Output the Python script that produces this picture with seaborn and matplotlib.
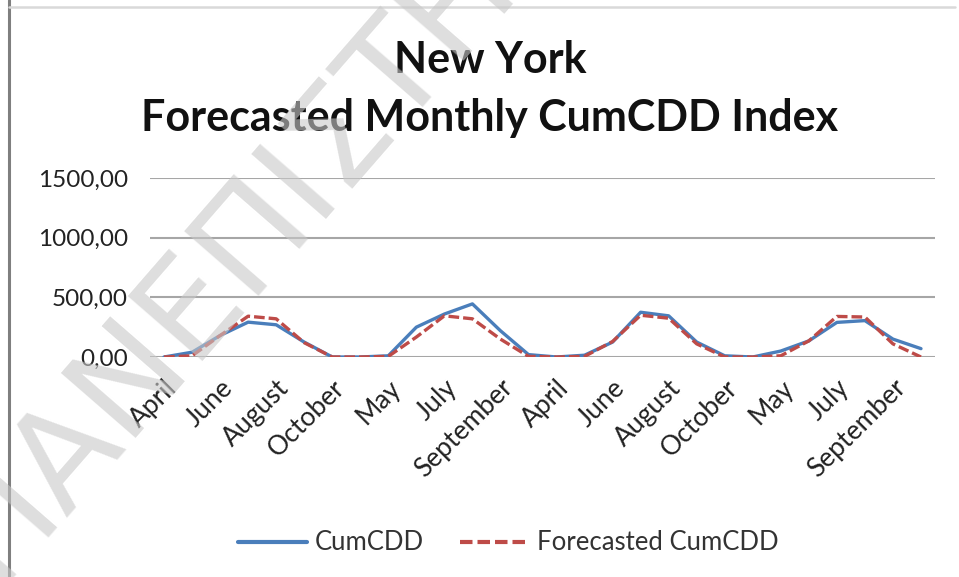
import numpy as np
import pandas as pd
import matplotlib
matplotlib.use("Agg")
import matplotlib.pyplot as plt
import matplotlib.ticker as mticker
from matplotlib.lines import Line2D
import seaborn as sns

# Season months (April-October), four seasons in a row
months = ["April", "May", "June", "July", "August", "September", "October"] * 4

cumcdd = [0, 40, 180, 292, 270, 125, 0,
          0, 10, 250, 360, 445, 220, 20,
          0, 15, 125, 375, 345, 125, 10,
          0, 50, 135, 290, 305, 150, 70]

forecast_cumcdd = [0, 10, 180, 342, 320, 120, 0,
                   0, 5, 167, 345, 320, 150, 5,
                   0, 5, 130, 350, 325, 110, 0,
                   0, 10, 135, 340, 335, 110, 0]

y_ticks = [0, 500, 1000, 1500]

series_names = ["CumCDD", "Forecasted CumCDD"]
colors = {"CumCDD": "#4a7ebb", "Forecasted CumCDD": "#be4b48"}

idx = np.arange(len(months))
df = pd.DataFrame({
    "idx": np.concatenate([idx, idx]),
    "value": cumcdd + forecast_cumcdd,
    "series": [series_names[0]] * len(idx) + [series_names[1]] * len(idx),
})

sns.set_theme(style="white")
plt.rcParams["font.family"] = ["Lato", "DejaVu Sans"]

W, H = 959, 577
fig = plt.figure(figsize=(W / 100, H / 100), dpi=100)
fig.patch.set_facecolor("white")
ax = fig.add_axes([150 / W, 1 - 357 / H, 785 / W, 179 / H])
ax.set_facecolor("none")

sns.lineplot(data=df, x="idx", y="value", hue="series", style="series",
             palette=colors,
             dashes={"CumCDD": "", "Forecasted CumCDD": (3.2, 1.2)},
             linewidth=2.4, ax=ax, legend=False, zorder=3)

ax.set_xlim(-0.5, len(months) - 0.5)
ax.set_ylim(0, 1500)
ax.set_yticks(y_ticks)
ax.yaxis.set_major_formatter(mticker.FuncFormatter(lambda v, p: f"{v:.2f}".replace(".", ",")))
ax.grid(axis="y", color="#a6a6a6", linewidth=1.5)
ax.grid(axis="x", visible=False)
ax.set_axisbelow(True)
for s in ax.spines.values():
    s.set_visible(False)

ax.set_xticks(idx[::2])
ax.set_xticklabels(months[::2], rotation=45, ha="right", rotation_mode="anchor")
ax.tick_params(axis="x", length=0, pad=13, labelsize=19, labelcolor="#222222")
ax.tick_params(axis="y", length=0, pad=16, labelsize=17.5, labelcolor="#222222")
ax.set_xlabel("")
ax.set_ylabel("")

fig.text(490 / W, 1 - 60 / H, "New York", ha="center", va="center",
         fontsize=31, fontweight="bold", color="#111111")
fig.text(490 / W, 1 - 118 / H, "Forecasted Monthly CumCDD Index", ha="center", va="center",
         fontsize=31, fontweight="bold", color="#111111")

handles = [Line2D([], [], color=colors["CumCDD"], linewidth=3.0),
           Line2D([], [], color=colors["Forecasted CumCDD"], linewidth=3.0,
                  linestyle=(0, (3.0, 1.2)))]
fig.legend(handles, series_names, loc="center", bbox_to_anchor=(508 / W, 1 - 543 / H),
           ncol=2, frameon=False, fontsize=18.5, handlelength=2.7, handletextpad=0.3,
           columnspacing=1.4, labelcolor="#333333")

# Chart frame edges
fig.add_artist(Line2D([9 / W, 9 / W], [0, 1], color="#7f7f7f", linewidth=2.2))
fig.add_artist(Line2D([9 / W, 955 / W], [1 - 7 / H, 1 - 7 / H], color="#d9d9d9", linewidth=1.8))

# Page watermark across the lower-left of the chart
fig.text(-5 / W, 1 - 585 / H, "ΠΑΝΕΠΙΣΤΗΜΙΟ", rotation=49, rotation_mode="anchor",
         ha="left", va="baseline", fontsize=98, fontweight="normal",
         family=["DejaVu Sans"], color="#c8c8c8", alpha=0.6, zorder=10)

fig.savefig("out.png", dpi=100, facecolor="white")
